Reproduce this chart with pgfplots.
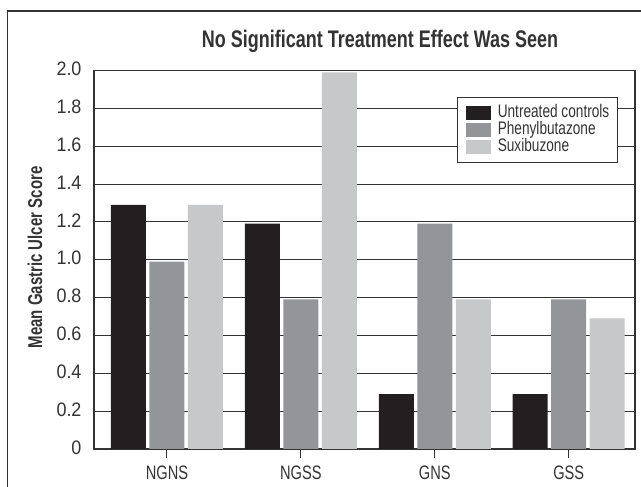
\documentclass[border=0pt]{standalone}
\usepackage{pgfplots}
\pgfplotsset{compat=1.18}
\usepackage{fontspec}
\setmainfont{Liberation Sans}[FakeStretch=0.75]
\newfontfamily\numfont{Liberation Sans}[FakeStretch=0.92]
\definecolor{cA}{HTML}{231F20}
\definecolor{cB}{HTML}{939598}
\definecolor{cC}{HTML}{C7C8CA}
\definecolor{ln}{HTML}{333333}
\begin{document}
\begin{tikzpicture}
\useasboundingbox (-94pt,-38pt) rectangle (547pt,449pt);
\draw[ln,line width=1.3pt] (-86.5pt,-40pt) -- (-86.5pt,438pt) -- (550pt,438pt);
\begin{axis}[
  at={(0pt,0pt)}, anchor=south west,
  scale only axis, width=541pt, height=378.6pt,
  xmin=-0.545, xmax=3.495, ymin=0, ymax=2.0,
  ybar=3.5pt, bar width=35pt,
  xtick={0,1,2,3}, xticklabels={NGNS,NGSS,GNS,GSS},
  ytick={0,0.2,0.4,0.6,0.8,1.0,1.2,1.4,1.6,1.8,2.0},
  yticklabels={0,0.2,0.4,0.6,0.8,1.0,1.2,1.4,1.6,1.8,2.0},
  xtick pos=bottom, ytick pos=left,
  tick align=outside, major tick length=9pt,
  ytick style={draw=none},
  xtick style={ln, line width=1pt},
  ymajorgrids, major grid style={ln, line width=0.9pt},
  axis line style={ln, line width=1.1pt},
  xticklabel style={font=\fontsize{19.5}{20}\selectfont, text=ln, yshift=-4.5pt},
  yticklabel style={font=\numfont\fontsize{19.5}{20}\selectfont, text=ln, yshift=1.5pt},
  legend style={at={(0.6715,0.93)}, anchor=north west, draw=ln, line width=1pt,
    fill=white, font=\fontsize{18.2}{18}\selectfont, text=ln,
    inner xsep=8.5pt, inner ysep=7pt,
    nodes={text height=13pt, text depth=4pt, inner ysep=0pt, inner xsep=0pt}},
  legend cell align=left,
  legend image code/.code={\fill[#1] (0pt,-7pt) rectangle (25pt,7pt); \path (31.5pt,0pt);},
]
\addplot[fill=cA, draw=none] coordinates {(0,1.29) (1,1.19) (2,0.29) (3,0.29)};
\addplot[fill=cB, draw=none] coordinates {(0,0.99) (1,0.79) (2,1.19) (3,0.79)};
\addplot[fill=cC, draw=none] coordinates {(0,1.29) (1,1.99) (2,0.79) (3,0.69)};
\legend{Untreated controls, Phenylbutazone, Suxibuzone}
\end{axis}
\node[font=\bfseries\fontsize{24}{24}\selectfont, text=ln] at (286pt,408pt) {No Significant Treatment Effect Was Seen};
\node[font=\bfseries\fontsize{20}{20}\selectfont, text=ln, rotate=90] at (-59pt,191.5pt) {Mean Gastric Ulcer Score};
\end{tikzpicture}
\end{document}
